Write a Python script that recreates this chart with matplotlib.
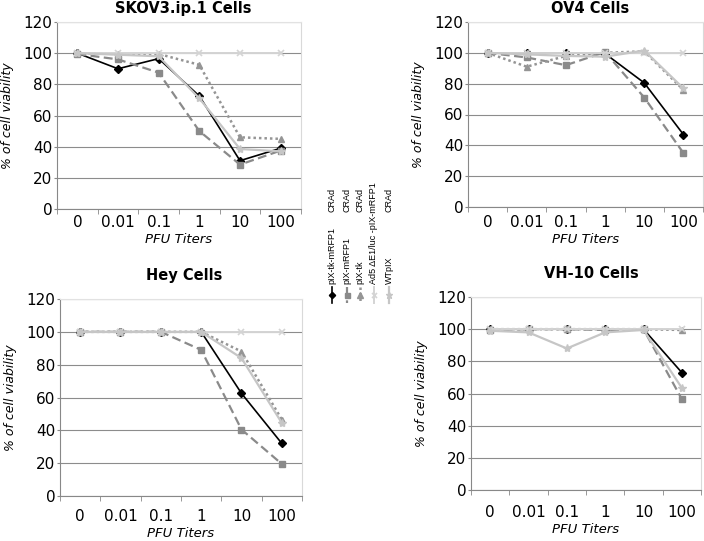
import matplotlib
matplotlib.use('Agg')
import matplotlib.pyplot as plt
from matplotlib.ticker import FixedLocator

W, H = 704, 541

titers = ['0', '0.01', '0.1', '1', '10', '100']
series_names = ['pIX-tk-mRFP1', 'pIX-mRFP1', 'pIX-tk', 'Ad5 \u0394E1/luc -pIX-mRFP1', 'WTpIX']
series_suffix = ['CRAd', 'CRAd', 'CRAd', '', 'CRAd']

# % cell viability per series (same order as series_names)
skov3 = [
    [100, 90, 96.5, 72.5, 31, 39],
    [99.5, 96, 87.5, 50, 28.5, 37.5],
    [100, 99.5, 99.5, 92.5, 46, 45],
    [100, 100, 100, 100, 100, 100],
    [100, 99, 98, 71, 38.5, 37],
]
ov4 = [
    [100, 100, 100, 99.5, 80.5, 47],
    [100, 97, 92, 100.5, 71, 35],
    [100, 91, 98, 100, 101, 76],
    [100, 100, 100, 100, 100, 100],
    [100, 99, 98, 97.5, 101.5, 77],
]
hey = [
    [100, 100, 100, 100, 62.5, 32],
    [100, 100, 100, 89, 40.5, 19.5],
    [100, 100, 100, 100, 88, 46.5],
    [100, 100, 100, 100, 100, 100],
    [100, 100, 100, 100, 84, 44.5],
]
vh10 = [
    [100, 100, 100, 100, 100, 73],
    [99.5, 100, 100, 99.5, 100, 56.5],
    [100, 100, 100, 100, 100, 99.5],
    [100, 100, 100, 100, 100, 100],
    [99, 98, 88, 98, 99.5, 63.5],
]

styles = [
    dict(color='black', ls='-', lw=1.2, marker='D', ms=4),
    dict(color='#8a8a8a', ls=(0, (4, 2)), lw=1.6, marker='s', ms=4.5),
    dict(color='#959595', ls=(0, (1, 1.2)), lw=1.8, marker='^', ms=5),
    dict(color='#d4d4d4', ls='-', lw=1.4, marker='x', ms=4.5, mew=1.2),
    dict(color='#c6c6c6', ls='-', lw=1.6, marker='*', ms=6),
]

# panel: title, data, axes box in pixels (left, top, right, bottom), tick pad, title pad
panels = [
    ('SKOV3.ip.1 Cells', skov3, (57, 22, 301, 209), 4.5, 6.5, 9),
    ('OV4 Cells', ov4, (468, 22, 703, 207), 6.0, 6.5, 10),
    ('Hey Cells', hey, (60, 299, 302, 496), 9.5, 13.5, 6),
    ('VH-10 Cells', vh10, (471, 297, 701, 490), 11.0, 13.5, 10),
]

fig = plt.figure(figsize=(W / 100, H / 100), dpi=100)

for title, data, (l, t, r, b), xpad, tpad, title_dx in panels:
    ax = fig.add_axes([l / W, 1 - b / H, (r - l) / W, (b - t) / H])
    x = range(len(titers))
    for vals, st in zip(data, styles):
        ax.plot(x, vals, **st)
    ax.set_xlim(-0.5, len(titers) - 0.5)
    ax.set_ylim(0, 120)
    ax.set_yticks(range(0, 121, 20))
    ax.set_xticks(list(x))
    ax.set_xticklabels(titers)
    ax.xaxis.set_minor_locator(FixedLocator([i - 0.5 for i in range(len(titers) + 1)]))
    ax.tick_params(axis='x', which='major', length=0, pad=xpad, labelsize=11)
    ax.tick_params(axis='x', which='minor', length=3.6, direction='out', color='#888888')
    ax.tick_params(axis='y', length=2.4, pad=1, labelsize=11, color='#888888')
    ax.grid(axis='y', color='#8c8c8c', lw=0.8)
    ax.set_axisbelow(True)
    for side in ['left', 'bottom']:
        ax.spines[side].set_color('#888888')
    ax.spines['right'].set_color('#d9d9d9')
    ax.spines['top'].set_color('#e2e2e2')
    ax.set_xlabel('PFU Titers', fontsize=9.5, style='italic', labelpad=2)
    ax.set_ylabel('% of cell viability', fontsize=9, style='italic')
    ax.yaxis.set_label_coords(-43 / (r - l), 0.5)
    ax.set_title(title, fontsize=10.5, fontweight='bold', pad=tpad, x=0.5 + title_dx / (r - l) * 0.5)

# rotated legend between the panels, drawn in pixel coordinates
lax = fig.add_axes([0, 0, 1, 1])
lax.set_xlim(0, W)
lax.set_ylim(H, 0)
lax.axis('off')
leg_x = [332, 347, 360, 374, 389]
for lx, name, suf, st in zip(leg_x, series_names, series_suffix, styles):
    lax.plot([lx, lx], [287, 303], color=st['color'], ls=st['ls'], lw=st['lw'])
    lax.plot([lx], [295], color=st['color'], marker=st['marker'], ms=st['ms'] * 0.8,
             mew=st.get('mew', 1), ls='none')
    lax.text(lx, 284, name, rotation=90, ha='center', va='bottom',
             fontsize=6.5, family='Liberation Sans')
    if suf:
        lax.text(lx, 212, suf, rotation=90, ha='center', va='bottom',
                 fontsize=6.5, family='Liberation Sans')

fig.savefig('out.png', dpi=100)
